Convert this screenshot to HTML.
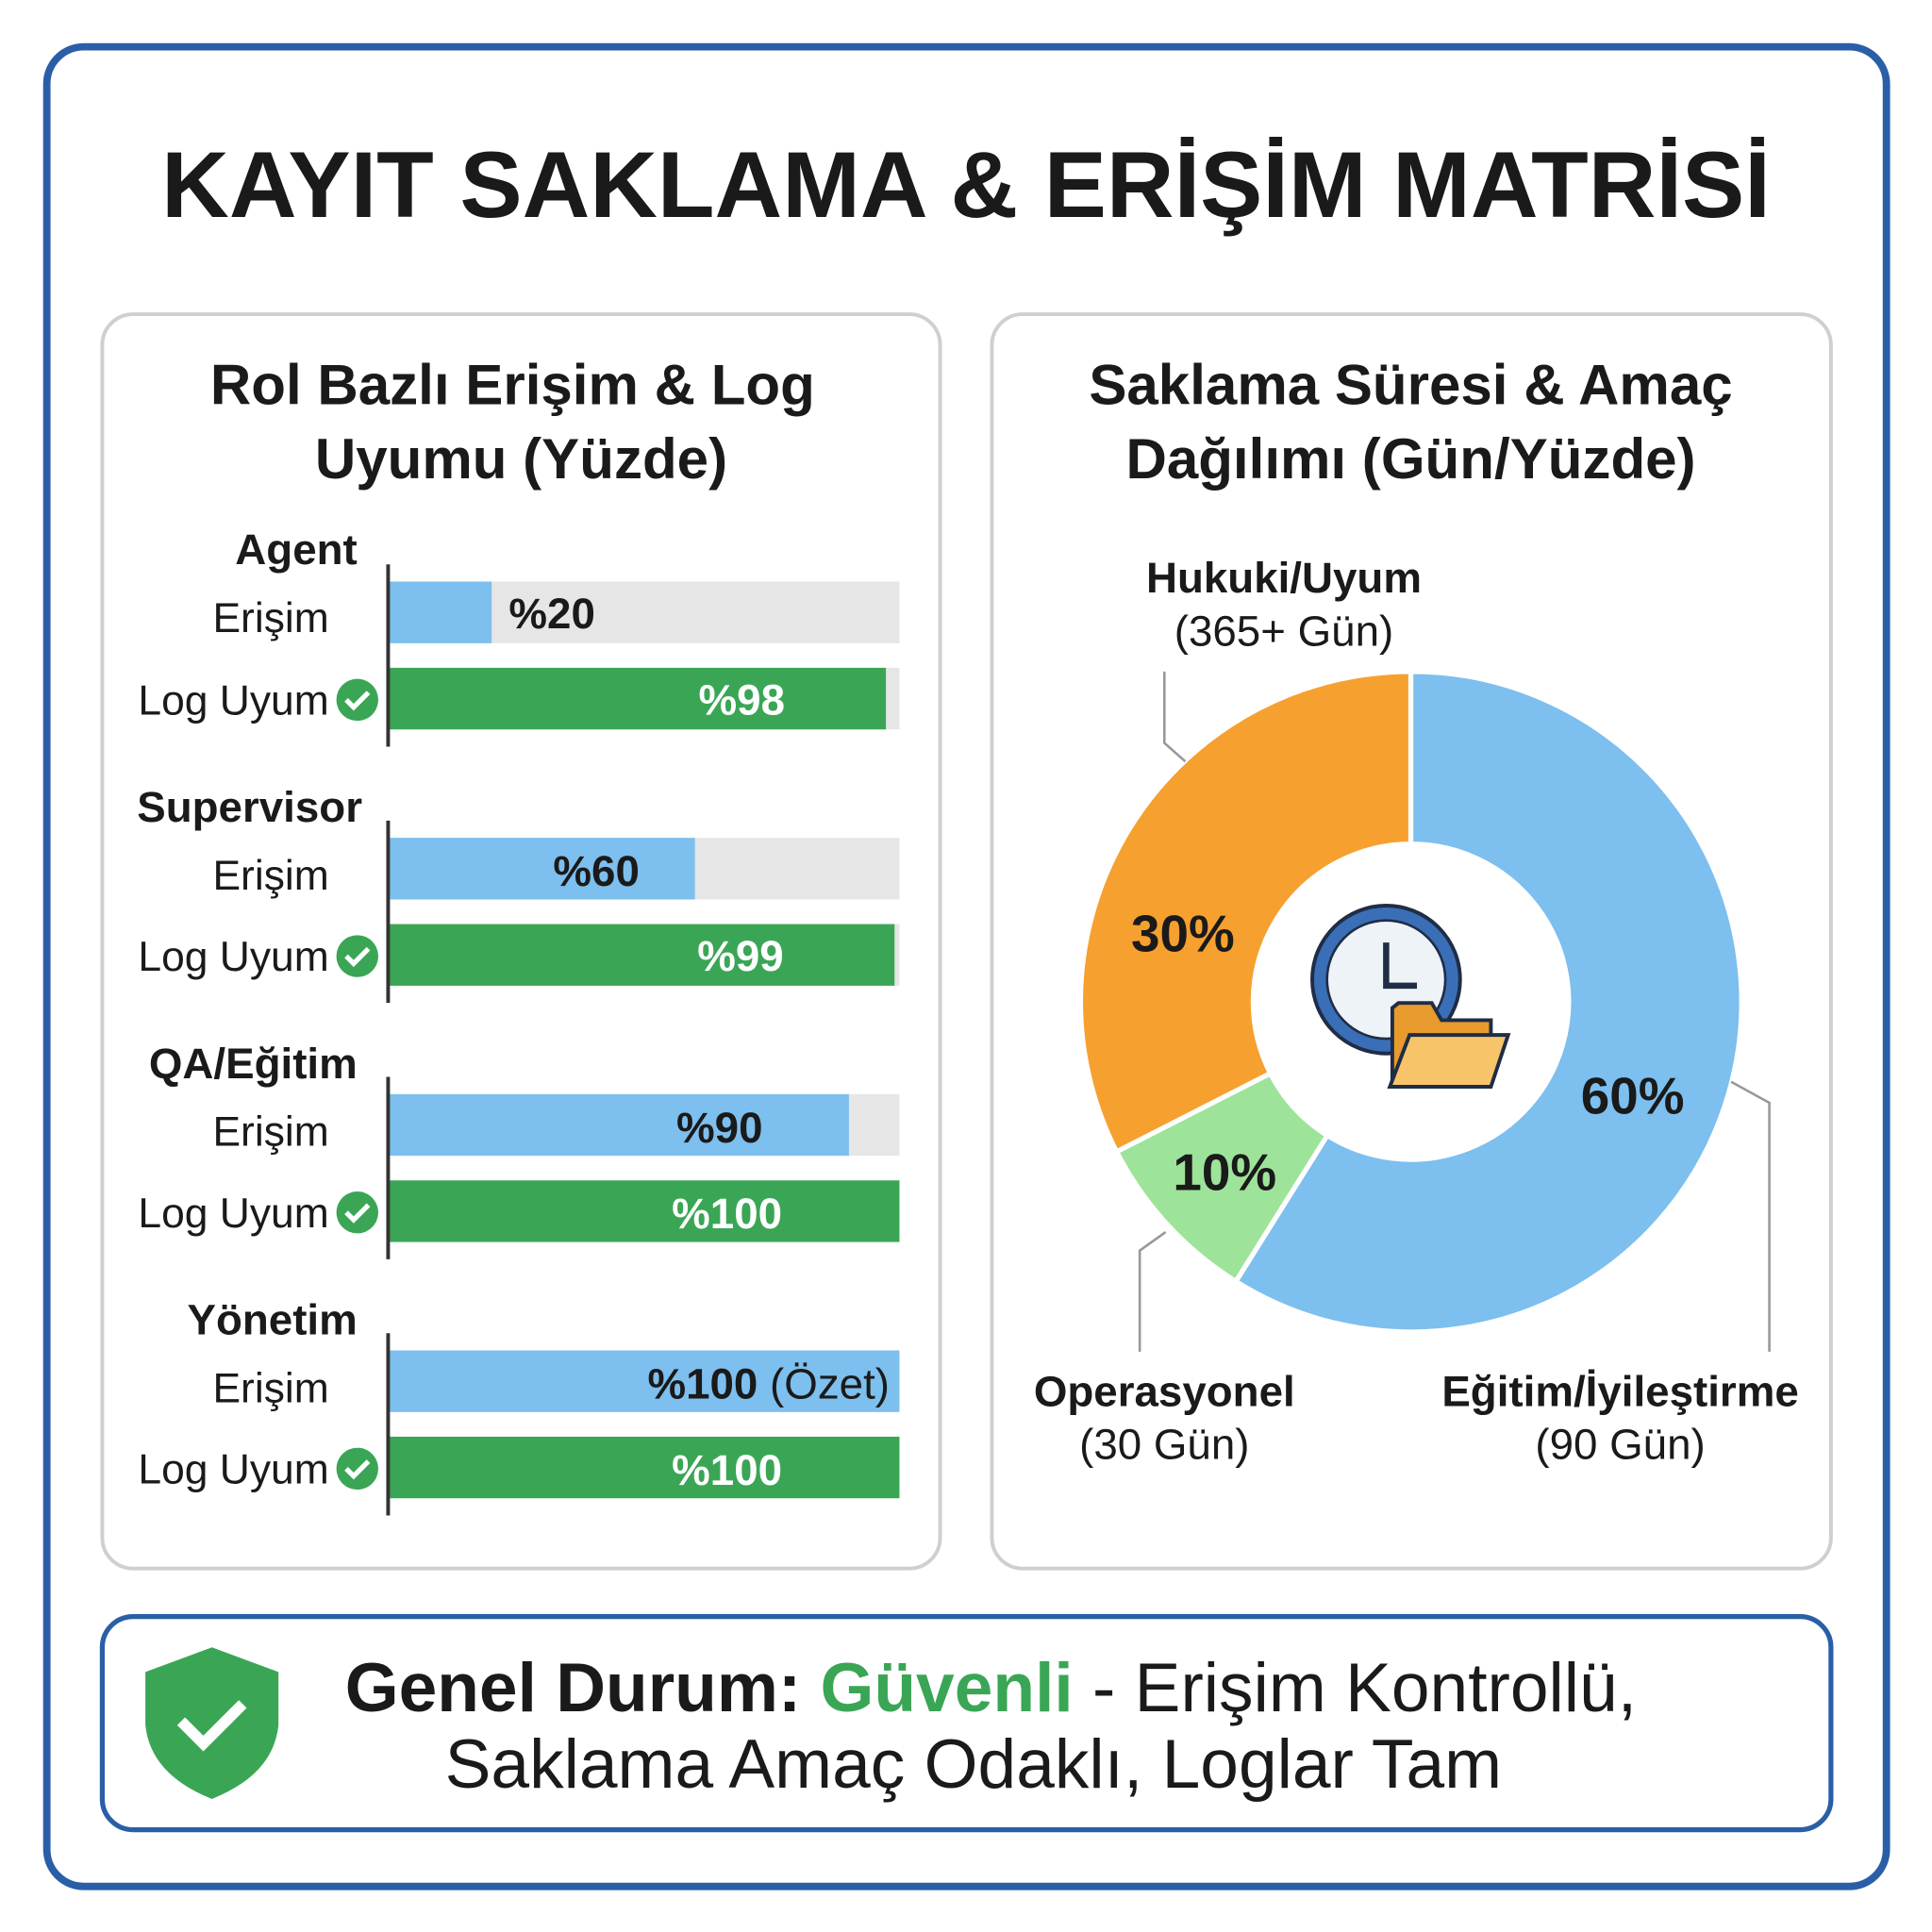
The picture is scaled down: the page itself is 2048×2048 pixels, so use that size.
<!DOCTYPE html>
<html><head><meta charset="utf-8"><style>
html,body{margin:0;padding:0;background:#fff;}
svg{display:block;}
text{font-family:"Liberation Sans","DejaVu Sans",sans-serif;fill:#1a1a1a;}
.b{font-weight:bold;}
</style></head><body>
<svg width="2048" height="2048" viewBox="0 0 1568 1568" xmlns="http://www.w3.org/2000/svg">
<rect x="0" y="0" width="1568" height="1568" fill="#fff"/>
<rect x="38" y="38" width="1493" height="1493" rx="30" fill="#fff" stroke="#2a5fa8" stroke-width="6"/>
<text x="784" y="176" text-anchor="middle" class="b" font-size="76">KAYIT SAKLAMA &amp; ERİŞİM MATRİSİ</text>

<rect x="83" y="255" width="680" height="1018" rx="25" fill="#fff" stroke="#cfcfcf" stroke-width="3"/>
<rect x="805" y="255" width="681" height="1018" rx="25" fill="#fff" stroke="#cfcfcf" stroke-width="3"/>

<text x="416" y="328" text-anchor="middle" class="b" font-size="46">Rol Bazlı Erişim &amp; Log</text>
<text x="423" y="388" text-anchor="middle" class="b" font-size="46">Uyumu (Yüzde)</text>
<text x="1145" y="328" text-anchor="middle" class="b" font-size="46">Saklama Süresi &amp; Amaç</text>
<text x="1145" y="388" text-anchor="middle" class="b" font-size="46">Dağılımı (Gün/Yüzde)</text>

<g id="bars">
<text x="290" y="458" text-anchor="end" class="b" font-size="35">Agent</text>
<text x="267" y="513" text-anchor="end" font-size="34" fill="#333">Erişim</text>
<rect x="316" y="472" width="414" height="50" fill="#e6e6e6"/>
<rect x="316" y="472" width="83" height="50" fill="#7dbfee"/>
<text x="413" y="510" class="b" font-size="35">%20</text>
<text x="267" y="580" text-anchor="end" font-size="34" fill="#333">Log Uyum</text>
<rect x="316" y="542" width="414" height="50" fill="#e6e6e6"/>
<rect x="316" y="542" width="403" height="50" fill="#3aa655"/>
<text x="602" y="580" text-anchor="middle" class="b" font-size="35" style="fill:#fff">%98</text>
<line x1="315" y1="458" x2="315" y2="606" stroke="#333" stroke-width="3"/>

<text x="294" y="667" text-anchor="end" class="b" font-size="35">Supervisor</text>
<text x="267" y="722" text-anchor="end" font-size="34" fill="#333">Erişim</text>
<rect x="316" y="680" width="414" height="50" fill="#e6e6e6"/>
<rect x="316" y="680" width="248" height="50" fill="#7dbfee"/>
<text x="484" y="719" text-anchor="middle" class="b" font-size="35">%60</text>
<text x="267" y="788" text-anchor="end" font-size="34" fill="#333">Log Uyum</text>
<rect x="316" y="750" width="414" height="50" fill="#e6e6e6"/>
<rect x="316" y="750" width="410" height="50" fill="#3aa655"/>
<text x="601" y="788" text-anchor="middle" class="b" font-size="35" style="fill:#fff">%99</text>
<line x1="315" y1="666" x2="315" y2="814" stroke="#333" stroke-width="3"/>

<text x="290" y="875" text-anchor="end" class="b" font-size="35">QA/Eğitim</text>
<text x="267" y="930" text-anchor="end" font-size="34" fill="#333">Erişim</text>
<rect x="316" y="888" width="414" height="50" fill="#e6e6e6"/>
<rect x="316" y="888" width="373" height="50" fill="#7dbfee"/>
<text x="584" y="927" text-anchor="middle" class="b" font-size="35">%90</text>
<text x="267" y="996" text-anchor="end" font-size="34" fill="#333">Log Uyum</text>
<rect x="316" y="958" width="414" height="50" fill="#3aa655"/>
<text x="590" y="997" text-anchor="middle" class="b" font-size="35" style="fill:#fff">%100</text>
<line x1="315" y1="874" x2="315" y2="1022" stroke="#333" stroke-width="3"/>

<text x="290" y="1083" text-anchor="end" class="b" font-size="35">Yönetim</text>
<text x="267" y="1138" text-anchor="end" font-size="34" fill="#333">Erişim</text>
<rect x="316" y="1096" width="414" height="50" fill="#7dbfee"/>
<text x="722" y="1135" text-anchor="end" font-size="35"><tspan font-weight="bold">%100</tspan> (Özet)</text>
<text x="267" y="1204" text-anchor="end" font-size="34" fill="#333">Log Uyum</text>
<rect x="316" y="1166" width="414" height="50" fill="#3aa655"/>
<text x="590" y="1205" text-anchor="middle" class="b" font-size="35" style="fill:#fff">%100</text>
<line x1="315" y1="1082" x2="315" y2="1230" stroke="#333" stroke-width="3"/>
</g>

<g>
<circle cx="290" cy="568" r="17" fill="#3aa655"/><path d="M281 568 l6 6 l12 -12" stroke="#fff" stroke-width="4" fill="none"/>
<circle cx="290" cy="776" r="17" fill="#3aa655"/><path d="M281 776 l6 6 l12 -12" stroke="#fff" stroke-width="4" fill="none"/>
<circle cx="290" cy="984" r="17" fill="#3aa655"/><path d="M281 984 l6 6 l12 -12" stroke="#fff" stroke-width="4" fill="none"/>
<circle cx="290" cy="1192" r="17" fill="#3aa655"/><path d="M281 1192 l6 6 l12 -12" stroke="#fff" stroke-width="4" fill="none"/>
</g>

<g stroke="#fff" stroke-width="4">
<path d="M1145 545 A268 268 0 1 1 1003 1040 L1077.2 921.5 A128 128 0 1 0 1145 685 Z" fill="#7dbfee"/>
<path d="M1003 1040 A268 268 0 0 1 906.2 934.7 L1031 871.1 A128 128 0 0 0 1077.2 921.5 Z" fill="#9ee39a"/>
<path d="M906.2 934.7 A268 268 0 0 1 1145 545 L1145 685 A128 128 0 0 0 1031 871.1 Z" fill="#f6a030"/>
</g>
<text x="960" y="772" text-anchor="middle" class="b" font-size="42">30%</text>
<text x="994" y="966" text-anchor="middle" class="b" font-size="42">10%</text>
<text x="1325" y="904" text-anchor="middle" class="b" font-size="42">60%</text>

<g stroke="#999" stroke-width="2" fill="none">
<polyline points="945,545 945,603 962,618"/>
<polyline points="946,1000 925,1015 925,1097"/>
<polyline points="1405,878 1436,895 1436,1097"/>
</g>
<text x="1042" y="481" text-anchor="middle" class="b" font-size="35">Hukuki/Uyum</text>
<text x="1042" y="524" text-anchor="middle" font-size="35" fill="#333">(365+ Gün)</text>
<text x="945" y="1141" text-anchor="middle" class="b" font-size="35">Operasyonel</text>
<text x="945" y="1184" text-anchor="middle" font-size="35" fill="#333">(30 Gün)</text>
<text x="1315" y="1141" text-anchor="middle" class="b" font-size="35">Eğitim/İyileştirme</text>
<text x="1315" y="1184" text-anchor="middle" font-size="35" fill="#333">(90 Gün)</text>

<circle cx="1125" cy="795" r="60" fill="#3a6fb8" stroke="#1f2d45" stroke-width="3"/>
<circle cx="1125" cy="795" r="48" fill="#eef3f8" stroke="#1f2d45" stroke-width="2"/>
<path d="M1125 765 L1125 800 L1150 800" stroke="#1f2d45" stroke-width="5" fill="none"/>
<path d="M1130 818 L1130 880 L1210 880 L1210 828 L1170 828 L1162 814 L1135 814 Z" fill="#e89a2c" stroke="#1f2d45" stroke-width="3"/>
<path d="M1128 882 L1144 840 L1224 840 L1210 882 Z" fill="#f7c46a" stroke="#1f2d45" stroke-width="3"/>

<rect x="83" y="1312" width="1403" height="173" rx="25" fill="#fff" stroke="#2a5fa8" stroke-width="4"/>
<path d="M172 1337 L226 1357 L226 1400 Q222 1440 172 1460 Q122 1440 118 1400 L118 1357 Z" fill="#3aa655"/>
<path d="M147 1397 l18 18 l32 -32" stroke="#fff" stroke-width="9" fill="none"/>
<text x="280" y="1389" font-size="56"><tspan font-weight="bold">Genel Durum: </tspan><tspan font-weight="bold" style="fill:#3aa655">Güvenli</tspan> - Erişim Kontrollü,</text>
<text x="790" y="1451" text-anchor="middle" font-size="56">Saklama Amaç Odaklı, Loglar Tam</text>
</svg>
</body></html>
